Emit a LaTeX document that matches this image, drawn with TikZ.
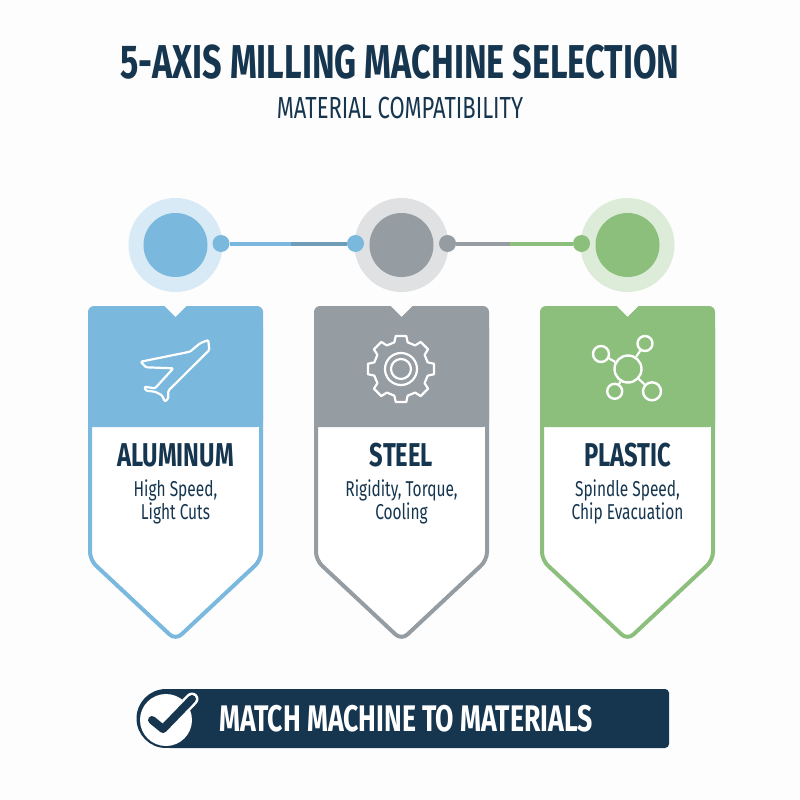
\documentclass[tikz,border=0pt]{standalone}
\usepackage{fontspec}
\usepackage{xcolor}
\usetikzlibrary{calc}
\setmainfont{Fira Sans}[FakeStretch=0.72]
\definecolor{navy}{HTML}{163650}
\definecolor{paper}{HTML}{FDFDFD}
\definecolor{alublue}{HTML}{7AB8DE}
\definecolor{steelgray}{HTML}{959CA2}
\definecolor{plasticgreen}{HTML}{8CBE7C}
\definecolor{alumix}{HTML}{6F9DB8}
\tikzstyle{maintitle} = [text=navy, font=\fontsize{47.5}{52}\selectfont\bfseries, inner sep=0pt]
\tikzstyle{subtitle} = [text=navy, font=\fontsize{30.5}{34}\selectfont, inner sep=0pt]
\tikzstyle{cardtitle} = [text=navy, font=\fontsize{33}{36}\selectfont\bfseries, inner sep=0pt]
\tikzstyle{cardtext} = [text=navy, font=\fontsize{21.5}{23.5}\selectfont, align=center, inner sep=0pt]
\tikzstyle{bannertext} = [text=white, font=\fontsize{37}{40}\selectfont\bfseries, inner sep=0pt]
\tikzstyle{dot} = [circle, minimum size=17pt, inner sep=0pt]
\tikzstyle{iconline} = [draw=white, line width=2.2pt, line join=round]
\tikzstyle{atom} = [circle, draw=white, line width=2.4pt, inner sep=0pt]
\tikzstyle{linkline} = [line width=4pt]
\newcommand{\cardbox}[6]{%
\begin{scope}[shift={(#2,0)}]
    \fill [#3!30!white] (0,245) circle (47);
    \fill [#3] (0,245) circle (32);
    \draw [draw=#3, fill=white, line width=4pt, rounded corners=8pt]
        (-85.5,320) -- (-85.5,560) -- (0,640) -- (85.5,560) -- (85.5,320) -- cycle;
    \fill [#3, rounded corners=6pt] (-87.5,427) -- (-87.5,306)
        [sharp corners] -- (-11,306) -- (0,317) -- (11,306)
        [rounded corners=6pt] -- (87.5,306) -- (87.5,427) [sharp corners] -- cycle;
    \node [cardtitle] (#1title) at (0,455) {#4};
    \node [cardtext] (#1text) at (0,502) {#5\\#6};
\end{scope}
}

\begin{document}
\begin{tikzpicture}[x=1pt, y=-1pt]
    \useasboundingbox (0,0) rectangle (800,800);
    \fill [paper] (0,0) rectangle (800,800);
    \node [maintitle] (title) at (400,62) {5-AXIS MILLING MACHINE SELECTION};
    \node [subtitle] (sub) at (400,108) {MATERIAL COMPATIBILITY};

    \cardbox{alu}{175.5}{alublue}{ALUMINUM}{High Speed,}{Light Cuts}
    \cardbox{steel}{401.5}{steelgray}{STEEL}{Rigidity, Torque,}{Cooling}
    \cardbox{plastic}{627.5}{plasticgreen}{PLASTIC}{Spindle Speed,}{Chip Evacuation}

    \node [dot, fill=alublue] (dota) at (221,243.5) {};
    \node [dot, fill=alublue] (dotb) at (355.5,243.5) {};
    \node [dot, fill=steelgray] (dotc) at (447.5,243.5) {};
    \node [dot, fill=plasticgreen] (dotd) at (581.5,243.5) {};
    \coordinate (mida) at (291,243.5);
    \coordinate (midb) at (510,243.5);
    \draw [linkline, alublue] (dota) -- (mida);
    \draw [linkline, alumix] (mida) -- (dotb);
    \draw [linkline, steelgray] (dotc) -- (midb);
    \draw [linkline, plasticgreen] (midb) -- (dotd);

    % plane
    \draw [iconline, rounded corners=1.2pt] (208.3,340) -- (200,343.3) -- (190,351.7)
        -- (140.7,361.7) -- (146,367.3) -- (173.3,368.3) -- (155,388.3) -- (144.3,386.7)
        -- (146,390.7) -- (155,391.7) -- (161.7,395) -- (165,401.7) -- (168.3,398.3)
        -- (168.3,390.7) -- (209.3,350) -- cycle;

    % gear
    \begin{scope}[shift={(401,369)}]
        \draw [iconline] (76:27.5)
            \foreach \a in {90,135,...,405} {
                -- (\a-9:33.5) -- (\a+9:33.5) -- (\a+14:27.5) -- (\a+31:27.5)
            } -- cycle;
        \draw [iconline] (0,0) circle (16);
        \draw [iconline] (0,0) circle (10);
    \end{scope}

    % molecule
    \node [atom, minimum size=27pt] (core) at (628,369) {};
    \node [atom, minimum size=16pt] (atoma) at (601,354) {};
    \node [atom, minimum size=15pt] (atomb) at (645,343.5) {};
    \node [atom, minimum size=15pt] (atomc) at (614.7,391.3) {};
    \node [atom, minimum size=18pt] (atomd) at (652,391.3) {};
    \draw [iconline] (core) -- (atoma);
    \draw [iconline] (core) -- (atomb);
    \draw [iconline] (core) -- (atomc);
    \draw [iconline] (core) -- (atomd);

    % banner
    \fill [navy, rounded corners=4pt] (166,689) -- (669,689) -- (669,748) -- (166,748) -- cycle;
    \fill [navy] (166,718.5) circle (29.5);
    \node [bannertext] (match) at (406,719) {MATCH MACHINE TO MATERIALS};
    \node [circle, fill=white, minimum size=52pt, inner sep=0pt] (checkmark) at (166,720) {};
    \draw [draw=white, line width=13pt, line cap=round, line join=round] (163,729) -- (192,699);
    \draw [draw=navy, line width=8pt, line cap=round, line join=round] (152,720) -- (163,729) -- (192,699);
\end{tikzpicture}
\end{document}
